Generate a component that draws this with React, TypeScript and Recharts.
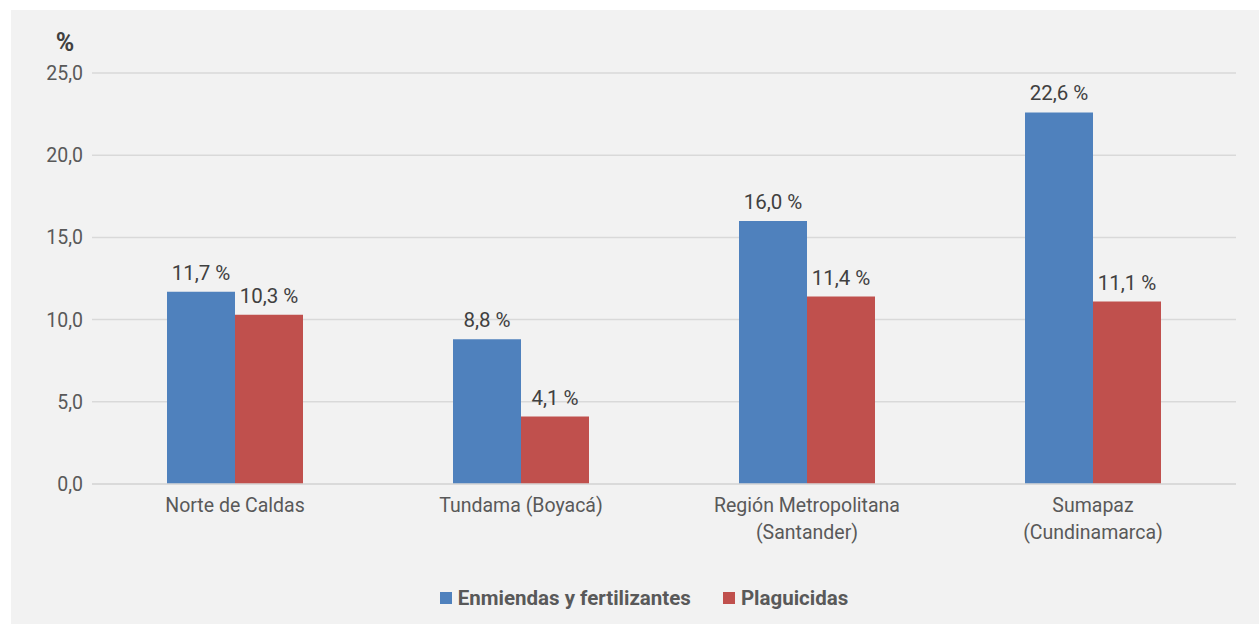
import React from 'react';
import { BarChart, Bar, XAxis, YAxis, CartesianGrid, Legend, LabelList } from 'recharts';

const categories = ['Norte de Caldas|', 'Tundama (Boyacá)|', 'Región Metropolitana|(Santander)', 'Sumapaz|(Cundinamarca)'];
const enmiendas = [11.7, 8.8, 16.0, 22.6];
const plaguicidas = [10.3, 4.1, 11.4, 11.1];
const yTicks = [0, 5, 10, 15, 20, 25];
const seriesNames = ['Enmiendas y fertilizantes', 'Plaguicidas'];
const colors = ['#4f81bd', '#c0504d'];

const data = categories.map((c, i) => ({ name: c, enm: enmiendas[i], plag: plaguicidas[i] }));

const FONT = 'Roboto, "Liberation Sans", Arial, sans-serif';
const fmt = (v: number) => v.toFixed(1).replace('.', ',');

const XTick = (props: any) => {
  const { x, y, payload } = props;
  const lines = String(payload.value).split('|').filter((s) => s.length > 0);
  return (
    <g>
      {lines.map((l: string, i: number) => (
        <text key={i} x={x} y={y + 26 + i * 27} textAnchor="middle" fill="#595959" fontSize={19.5} fontFamily={FONT}>
          {l}
        </text>
      ))}
    </g>
  );
};

const PercentLabel = (props: any) => {
  const vb = props.viewBox || {};
  return (
    <text x={vb.x + 54} y={vb.y - 22} textAnchor="middle" fill="#404040" fontSize={25} fontWeight="bold" fontFamily={FONT}>
      %
    </text>
  );
};

const LegendContent = () => (
  <div style={{ height: 30, display: 'flex', justifyContent: 'center', alignItems: 'center', fontFamily: FONT, fontWeight: 'bold', fontSize: 20.5, color: '#595959', paddingLeft: 18 }}>
    {seriesNames.map((n, i) => (
      <div key={n} style={{ display: 'flex', alignItems: 'center', marginRight: i === 0 ? 32 : 0 }}>
        <div style={{ width: 12, height: 12, background: colors[i], marginRight: 6 }} />
        <span>{n}</span>
      </div>
    ))}
  </div>
);

export default function App() {
  return (
    <div style={{ position: 'absolute', left: 11, top: 10, width: 1248, height: 614, background: '#f2f2f2' }}>
      <BarChart
        width={1248}
        height={614}
        data={data}
        margin={{ top: 63, right: 23, left: 0, bottom: 50 }}
        barGap={0}
      >
        <CartesianGrid vertical={false} stroke="#d9d9d9" strokeWidth={1.5} />
        <XAxis
          dataKey="name"
          height={60}
          tick={<XTick />}
          tickLine={false}
          tickSize={0}
          axisLine={{ stroke: '#d9d9d9', strokeWidth: 1.5 }}
          interval={0}
        />
        <YAxis
          width={81}
          domain={[0, 25]}
          ticks={yTicks}
          tickFormatter={fmt}
          tickLine={false}
          axisLine={false}
          tickSize={0}
          tickMargin={9}
          tick={{ fill: '#595959', fontSize: 19.5, fontFamily: FONT }}
          label={<PercentLabel />}
        />
        <Legend
          verticalAlign="bottom"
          content={<LegendContent />}
          wrapperStyle={{ position: 'absolute', top: 573, left: 0, width: 1248, height: 30 }}
        />
        <Bar dataKey="enm" name={seriesNames[0]} fill={colors[0]} barSize={68} isAnimationActive={false}>
          <LabelList dataKey="enm" position="top" offset={12} formatter={(v: any) => fmt(Number(v)) + ' %'} fill="#404040" fontSize={20.5} fontFamily={FONT} />
        </Bar>
        <Bar dataKey="plag" name={seriesNames[1]} fill={colors[1]} barSize={68} isAnimationActive={false}>
          <LabelList dataKey="plag" position="top" offset={12} formatter={(v: any) => fmt(Number(v)) + ' %'} fill="#404040" fontSize={20.5} fontFamily={FONT} />
        </Bar>
      </BarChart>
    </div>
  );
}
